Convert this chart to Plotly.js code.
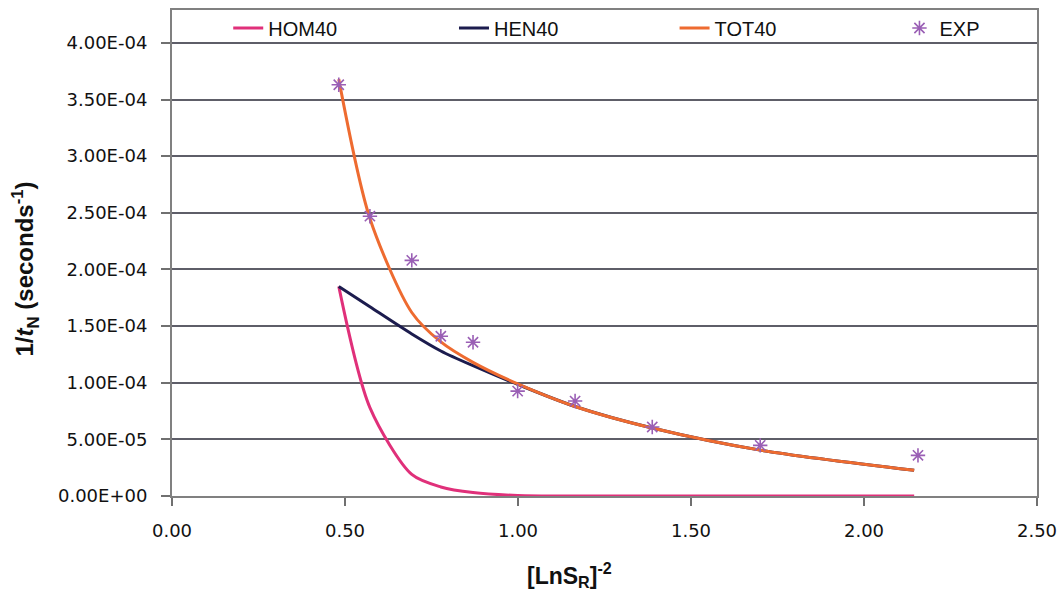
<!DOCTYPE html>
<html>
<head>
<meta charset="utf-8">
<script src="https://cdn.plot.ly/plotly-3.0.1.min.js"></script>
<style>html,body{margin:0;padding:0;background:#fff;}#chart{width:1063px;height:593px;}</style>
</head>
<body>
<div id="chart"></div>
<script>
// Model x positions ([LnS_R]^-2)
const modelX = [0.482, 0.572, 0.693, 0.777, 0.870, 0.999, 1.165, 1.388, 1.700, 2.145];
const hom40  = [1.85e-4, 0.78e-4, 0.19e-4, 0.08e-4, 0.03e-4, 0.005e-4, 0.0, 0.0, 0.0, 0.0];
const hen40  = [1.85e-4, 1.67e-4, 1.43e-4, 1.28e-4, 1.15e-4, 0.985e-4, 0.79e-4, 0.60e-4, 0.405e-4, 0.227e-4];
const tot40  = [3.68e-4, 2.45e-4, 1.62e-4, 1.36e-4, 1.18e-4, 0.99e-4, 0.79e-4, 0.60e-4, 0.405e-4, 0.227e-4];
// Experimental points
const expX = [0.482, 0.572, 0.693, 0.777, 0.870, 0.999, 1.165, 1.388, 1.700, 2.156];
const expY = [3.63e-4, 2.47e-4, 2.08e-4, 1.41e-4, 1.357e-4, 0.926e-4, 0.838e-4, 0.609e-4, 0.447e-4, 0.359e-4];
// Y tick labels
const yTickVals = [0, 0.5e-4, 1.0e-4, 1.5e-4, 2.0e-4, 2.5e-4, 3.0e-4, 3.5e-4, 4.0e-4];
const yTickText = ["0.00E+00","5.00E-05","1.00E-04","1.50E-04","2.00E-04","2.50E-04","3.00E-04","3.50E-04","4.00E-04"];
// Axis titles
const xTitle = '<b>[LnS<sub>R</sub>]<sup>-2</sup></b>';
const yTitle = '<b>1/<i>t</i><sub>N</sub> (seconds<sup>-1</sup>)</b>';

function lineTrace(x, y, name, color, legendId) {
  return {x: x, y: y, name: name, mode: 'lines', legend: legendId,
          line: {shape: 'spline', smoothing: 0.8, width: 3, color: color}};
}
const traces = [
  lineTrace(modelX, hom40, 'HOM40', '#e0307a', 'legend'),
  lineTrace(modelX, hen40, 'HEN40', '#1c1c4e', 'legend2'),
  lineTrace(modelX, tot40, 'TOT40', '#ee6b30', 'legend3'),
  {x: expX, y: expY, name: 'EXP', mode: 'markers', legend: 'legend4',
   marker: {symbol: 'asterisk-open', size: 12, color: '#9a5fb5', line: {color: '#9a5fb5', width: 1.6}}}
];

const legFont = {family: 'Liberation Sans, Arial, sans-serif', size: 20, color: '#111'};
function leg(x) {
  return {x: x, y: 0.961, xanchor: 'left', yanchor: 'middle', orientation: 'h',
          bgcolor: 'rgba(0,0,0,0)', borderwidth: 0, font: legFont, itemwidth: 30};
}
const tickFont = {family: 'DejaVu Sans, sans-serif', size: 18, color: '#111'};

const layout = {
  width: 1063, height: 593,
  margin: {l: 172, r: 26, t: 9, b: 97},
  paper_bgcolor: '#ffffff', plot_bgcolor: '#ffffff',
  font: {family: 'Liberation Sans, Arial, sans-serif', size: 16, color: '#111'},
  showlegend: true,
  legend: leg(0.065),
  legend2: leg(0.326),
  legend3: leg(0.581),
  legend4: leg(0.841),
  xaxis: {
    range: [0, 2.5], dtick: 0.5, tick0: 0, tickformat: '.2f',
    showgrid: false, zeroline: false,
    showline: true, linecolor: '#808080', linewidth: 2, mirror: true,
    ticks: 'outside', ticklen: 8, tickcolor: '#707070', tickwidth: 2,
    ticklabelstandoff: 9,
    tickfont: tickFont
  },
  yaxis: {
    range: [0, 4.29e-4], tickmode: 'array', tickvals: yTickVals, ticktext: yTickText,
    showgrid: true, gridcolor: '#5e5e68', gridwidth: 2,
    zeroline: false,
    showline: true, linecolor: '#808080', linewidth: 2, mirror: true,
    ticks: 'outside', ticklen: 9, tickcolor: '#707070', tickwidth: 2,
    ticklabelstandoff: 10,
    tickfont: tickFont
  },
  annotations: [
    {text: xTitle, xref: 'paper', yref: 'paper', x: 0.459, y: -0.162, xanchor: 'center', yanchor: 'middle',
     showarrow: false, font: {family: 'Liberation Sans, Arial, sans-serif', size: 23, color: '#111'}},
    {text: yTitle, xref: 'paper', yref: 'paper', x: -0.170, y: 0.468, xanchor: 'center', yanchor: 'middle',
     textangle: -90, showarrow: false, font: {family: 'Liberation Sans, Arial, sans-serif', size: 24, color: '#111'}}
  ]
};

Plotly.newPlot('chart', traces, layout, {displayModeBar: false, staticPlot: true});
</script>
</body>
</html>
